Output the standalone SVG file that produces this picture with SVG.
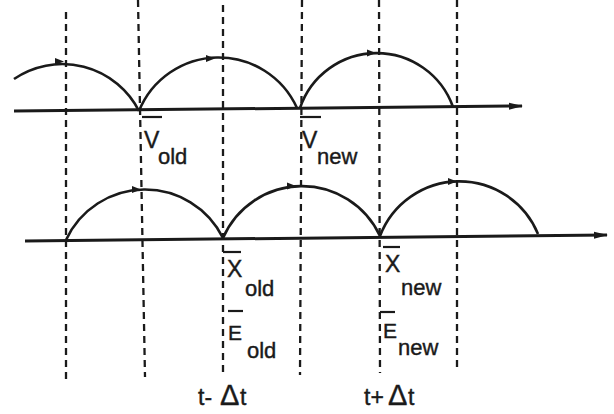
<svg xmlns="http://www.w3.org/2000/svg" width="614" height="414" viewBox="0 0 614 414">
<style>
.dash{stroke:#1a1a1a;stroke-width:2.3;stroke-dasharray:7 5;fill:none}
.axis{stroke:#1a1a1a;stroke-width:3;fill:none}
.arc{stroke:#1a1a1a;stroke-width:2.6;fill:none}
.ah{fill:#1a1a1a}
.bar{stroke:#1a1a1a;stroke-width:2.2;fill:none}
text{font-family:"Liberation Sans",Arial,sans-serif;fill:#1a1a1a;stroke:#1a1a1a;stroke-width:0.4}
.big{font-size:23px}
.sub{font-size:22px}
.e{font-size:21px}
.d{font-size:29px}
</style>
<defs>
<marker id="axarrow" markerWidth="14" markerHeight="10" refX="13" refY="5" orient="auto" markerUnits="userSpaceOnUse">
<path d="M0,1.5 L14,5 L0,8.5 Z" fill="#1a1a1a"/>
</marker>
<path id="tip" d="M-9,-3.5 L0,0 L-9,3.5 Z"/>
</defs>
<rect width="614" height="414" fill="#ffffff"/>
<g id="gridlines">
<line class="dash" x1="66" y1="12" x2="66" y2="380"/>
<line class="dash" x1="138" y1="0" x2="145" y2="377"/>
<line class="dash" x1="223" y1="5" x2="223" y2="373"/>
<line class="dash" x1="302" y1="0" x2="300" y2="375"/>
<line class="dash" x1="379" y1="0" x2="380" y2="373"/>
<line class="dash" x1="457" y1="0" x2="457" y2="370"/>
</g>
<g id="connectors">
<line class="axis" x1="14" y1="111" x2="522" y2="106" marker-end="url(#axarrow)"/>
<line class="axis" x1="25" y1="241" x2="607" y2="235" marker-end="url(#axarrow)"/>
<path class="arc" d="M14,79 A86,86 0 0 1 139,111"/>
<path class="arc" d="M139,111 A86,86 0 0 1 297,108"/>
<path class="arc" d="M300,108 A81,81 0 0 1 453,107"/>
<path class="arc" d="M66,240 A87,87 0 0 1 223,238"/>
<path class="arc" d="M223,238 A86,86 0 0 1 380,236"/>
<path class="arc" d="M380,236 A85,85 0 0 1 538,234"/>
<use href="#tip" class="ah" transform="translate(64,61.5)"/>
<use href="#tip" class="ah" transform="translate(215,58.5)"/>
<use href="#tip" class="ah" transform="translate(376,53)"/>
<use href="#tip" class="ah" transform="translate(141,189.5)"/>
<use href="#tip" class="ah" transform="translate(296,186)"/>
<use href="#tip" class="ah" transform="translate(457,181.5)"/>
</g>
<g id="v_old">
<line class="bar" x1="142" y1="117" x2="162" y2="117"/>
<text class="big" x="144" y="148">V</text>
<text class="sub" x="158" y="164">old</text>
</g>
<g id="v_new">
<line class="bar" x1="300" y1="117" x2="321" y2="117"/>
<text class="big" x="302" y="148">V</text>
<text class="sub" x="317" y="164">new</text>
</g>
<g id="x_old">
<line class="bar" x1="223" y1="252" x2="241" y2="252"/>
<text class="big" x="227" y="277">X</text>
<text class="sub" x="245" y="296">old</text>
</g>
<g id="e_old">
<line class="bar" x1="228" y1="311" x2="243" y2="311"/>
<text class="e" x="228" y="340">E</text>
<text class="sub" x="247" y="358">old</text>
</g>
<g id="x_new">
<line class="bar" x1="383" y1="247" x2="400" y2="247"/>
<text class="big" x="385" y="272">X</text>
<text class="sub" x="401" y="295">new</text>
</g>
<g id="e_new">
<line class="bar" x1="380" y1="312" x2="395" y2="312"/>
<text class="e" x="383" y="338">E</text>
<text class="sub" x="398" y="355">new</text>
</g>
<g id="t_minus">
<text class="big" x="198" y="405">t-</text>
<text class="d" x="220" y="405">Δ</text>
<text class="big" x="240" y="405">t</text>
</g>
<g id="t_plus">
<text class="big" x="364" y="405">t+</text>
<text class="d" x="388" y="405">Δ</text>
<text class="big" x="408" y="405">t</text>
</g>
</svg>
